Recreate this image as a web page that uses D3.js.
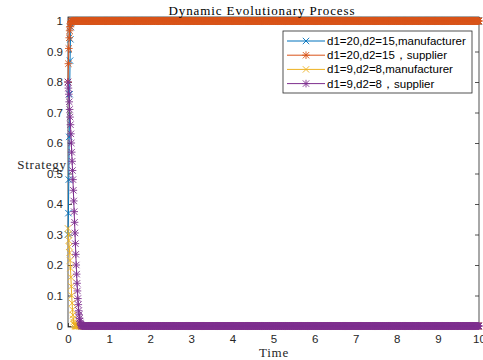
<!DOCTYPE html>
<html>
<head>
<meta charset="utf-8">
<title>Dynamic Evolutionary Process</title>
<style>
  body { margin: 0; background: #fff; }
  svg { display: block; }
  .tick text { font-family: 'Liberation Sans', Arial, sans-serif; font-size: 11.5px; fill: #262626; }
</style>
<script src="https://d3js.org/d3.v7.min.js"></script>
</head>
<body>
<svg id="chart" width="483" height="360"></svg>
<script>
// time step of the solver output, and its end
var dt = 0.01;
var tEnd = 10;

// series labels (as in the legend)
var names = [
  "d1=20,d2=15,manufacturer",
  "d1=20,d2=15，supplier",
  "d1=9,d2=8,manufacturer",
  "d1=9,d2=8，supplier"
];

// transient part of each series, one value per dt
var manu20 = [0.30, 0.37, 0.48, 0.62, 0.76, 0.87, 0.94, 0.98, 0.995, 1];
var supp20 = [0.80, 0.86, 0.91, 0.945, 0.968, 0.982, 0.99, 0.995, 0.998, 1];
var manu9  = [0.32, 0.30, 0.28, 0.26, 0.24, 0.215, 0.19, 0.16, 0.13, 0.10, 0.075,
              0.053, 0.036, 0.023, 0.013, 0.007, 0.003, 0.001, 0];
var supp9  = [0.80, 0.78, 0.76, 0.735, 0.71, 0.685, 0.66, 0.63, 0.60, 0.57, 0.54,
              0.51, 0.48, 0.445, 0.41, 0.375, 0.34, 0.305, 0.27, 0.235, 0.20,
              0.17, 0.14, 0.115, 0.09, 0.07, 0.05, 0.037, 0.025, 0.016, 0.01,
              0.006, 0.003, 0.001, 0];
// value each series settles at afterwards
var steady = [1, 1, 0, 0];

var xTicks = [0, 1, 2, 3, 4, 5, 6, 7, 8, 9, 10];
var yTicks = [0, 0.1, 0.2, 0.3, 0.4, 0.5, 0.6, 0.7, 0.8, 0.9, 1];

var colors = ["#0072BD", "#D95319", "#EDB120", "#7E2F8E"];
var marks  = ["x", "star", "x", "star"];

var time = d3.range(0, Math.round(tEnd / dt) + 1).map(function (i) { return +(i * dt).toFixed(4); });
var heads = [manu20, supp20, manu9, supp9];
var series = heads.map(function (h, k) {
  return time.map(function (t, i) { return [t, i < h.length ? h[i] : steady[k]]; });
});

var svg = d3.select("#chart");
var L = 68, R = 479, T = 17, B = 327;
var x = d3.scaleLinear().domain([0, 10]).range([L, R]);
var y = d3.scaleLinear().domain([0, 1]).range([326, 21]);

svg.append("rect").attr("width", 483).attr("height", 360).attr("fill", "#fff");

// axes with inward ticks on all four sides
var axCol = "#262626";
var gx = svg.append("g").attr("transform", "translate(0," + B + ")")
  .call(d3.axisBottom(x).tickValues(xTicks).tickSize(-4).tickPadding(8).tickFormat(d3.format("d")));
var gy = svg.append("g").attr("transform", "translate(" + L + ",0)")
  .call(d3.axisLeft(y).tickValues(yTicks).tickSize(-4).tickPadding(5).tickFormat(function (d) { return d === 0 || d === 1 ? d : d3.format(".1f")(d); }));
var gt = svg.append("g").attr("transform", "translate(0," + T + ")")
  .call(d3.axisTop(x).tickValues(xTicks).tickSize(-4).tickFormat(""));
var gr = svg.append("g").attr("transform", "translate(" + R + ",0)")
  .call(d3.axisRight(y).tickValues(yTicks).tickSize(-4).tickFormat(""));
[gx, gy, gt, gr].forEach(function (g) {
  g.select(".domain").remove();
  g.selectAll(".tick line").attr("stroke", axCol).attr("stroke-width", 0.8);
});
svg.append("rect").attr("x", L).attr("y", T).attr("width", R - L).attr("height", B - T)
  .attr("fill", "none").attr("stroke", axCol).attr("stroke-width", 0.8);

// marker shapes
var s = 3.2;
function markPath(kind) {
  var xs = "M" + (-s) + "," + (-s) + "L" + s + "," + s + "M" + (-s) + "," + s + "L" + s + "," + (-s);
  if (kind === "x") return xs;
  var r = 3.8;
  return xs + "M" + (-r) + ",0L" + r + ",0M0," + (-r) + "L0," + r;
}

var line = d3.line().x(function (d) { return x(d[0]); }).y(function (d) { return y(d[1]); });

series.forEach(function (data, k) {
  var g = svg.append("g");
  g.append("path").attr("d", line(data)).attr("fill", "none")
    .attr("stroke", colors[k]).attr("stroke-width", 1);
  var mp = markPath(marks[k]);
  g.append("path")
    .attr("d", data.map(function (d) {
      return mp.replace(/([ML])(-?[\d.]+),(-?[\d.]+)/g, function (m, c, a, b) {
        return c + (x(d[0]) + (+a)).toFixed(2) + "," + (y(d[1]) + (+b)).toFixed(2);
      });
    }).join(""))
    .attr("fill", "none").attr("stroke", colors[k]).attr("stroke-width", 0.9);
});

// title and axis labels
var serif = "'Liberation Serif', 'DejaVu Serif', serif";
svg.append("text").attr("x", 262).attr("y", 15).attr("text-anchor", "middle")
  .attr("font-family", serif).attr("font-size", 13).attr("letter-spacing", 0.9).attr("fill", "#000")
  .text("Dynamic Evolutionary Process");
svg.append("text").attr("x", 42).attr("y", 169).attr("text-anchor", "middle")
  .attr("font-family", serif).attr("font-size", 13).attr("letter-spacing", 0.8).attr("fill", "#262626")
  .text("Strategy");
svg.append("text").attr("x", 274).attr("y", 357).attr("text-anchor", "middle")
  .attr("font-family", serif).attr("font-size", 13).attr("letter-spacing", 0.8).attr("fill", "#262626")
  .text("Time");

// legend
var lg = svg.append("g");
lg.append("rect").attr("x", 283).attr("y", 31).attr("width", 189).attr("height", 62)
  .attr("fill", "#fff").attr("stroke", axCol).attr("stroke-width", 0.8);
names.forEach(function (n, k) {
  var yy = 41 + k * 14.2;
  lg.append("line").attr("x1", 287).attr("x2", 325).attr("y1", yy).attr("y2", yy)
    .attr("stroke", colors[k]).attr("stroke-width", 1);
  lg.append("path").attr("transform", "translate(306," + yy + ")")
    .attr("d", markPath(marks[k])).attr("fill", "none")
    .attr("stroke", colors[k]).attr("stroke-width", 0.9);
  lg.append("text").attr("x", 327).attr("y", yy + 4)
    .attr("font-family", "'Liberation Sans', Arial, sans-serif").attr("font-size", 11.5)
    .attr("fill", "#000").text(n);
});
</script>
</body>
</html>
